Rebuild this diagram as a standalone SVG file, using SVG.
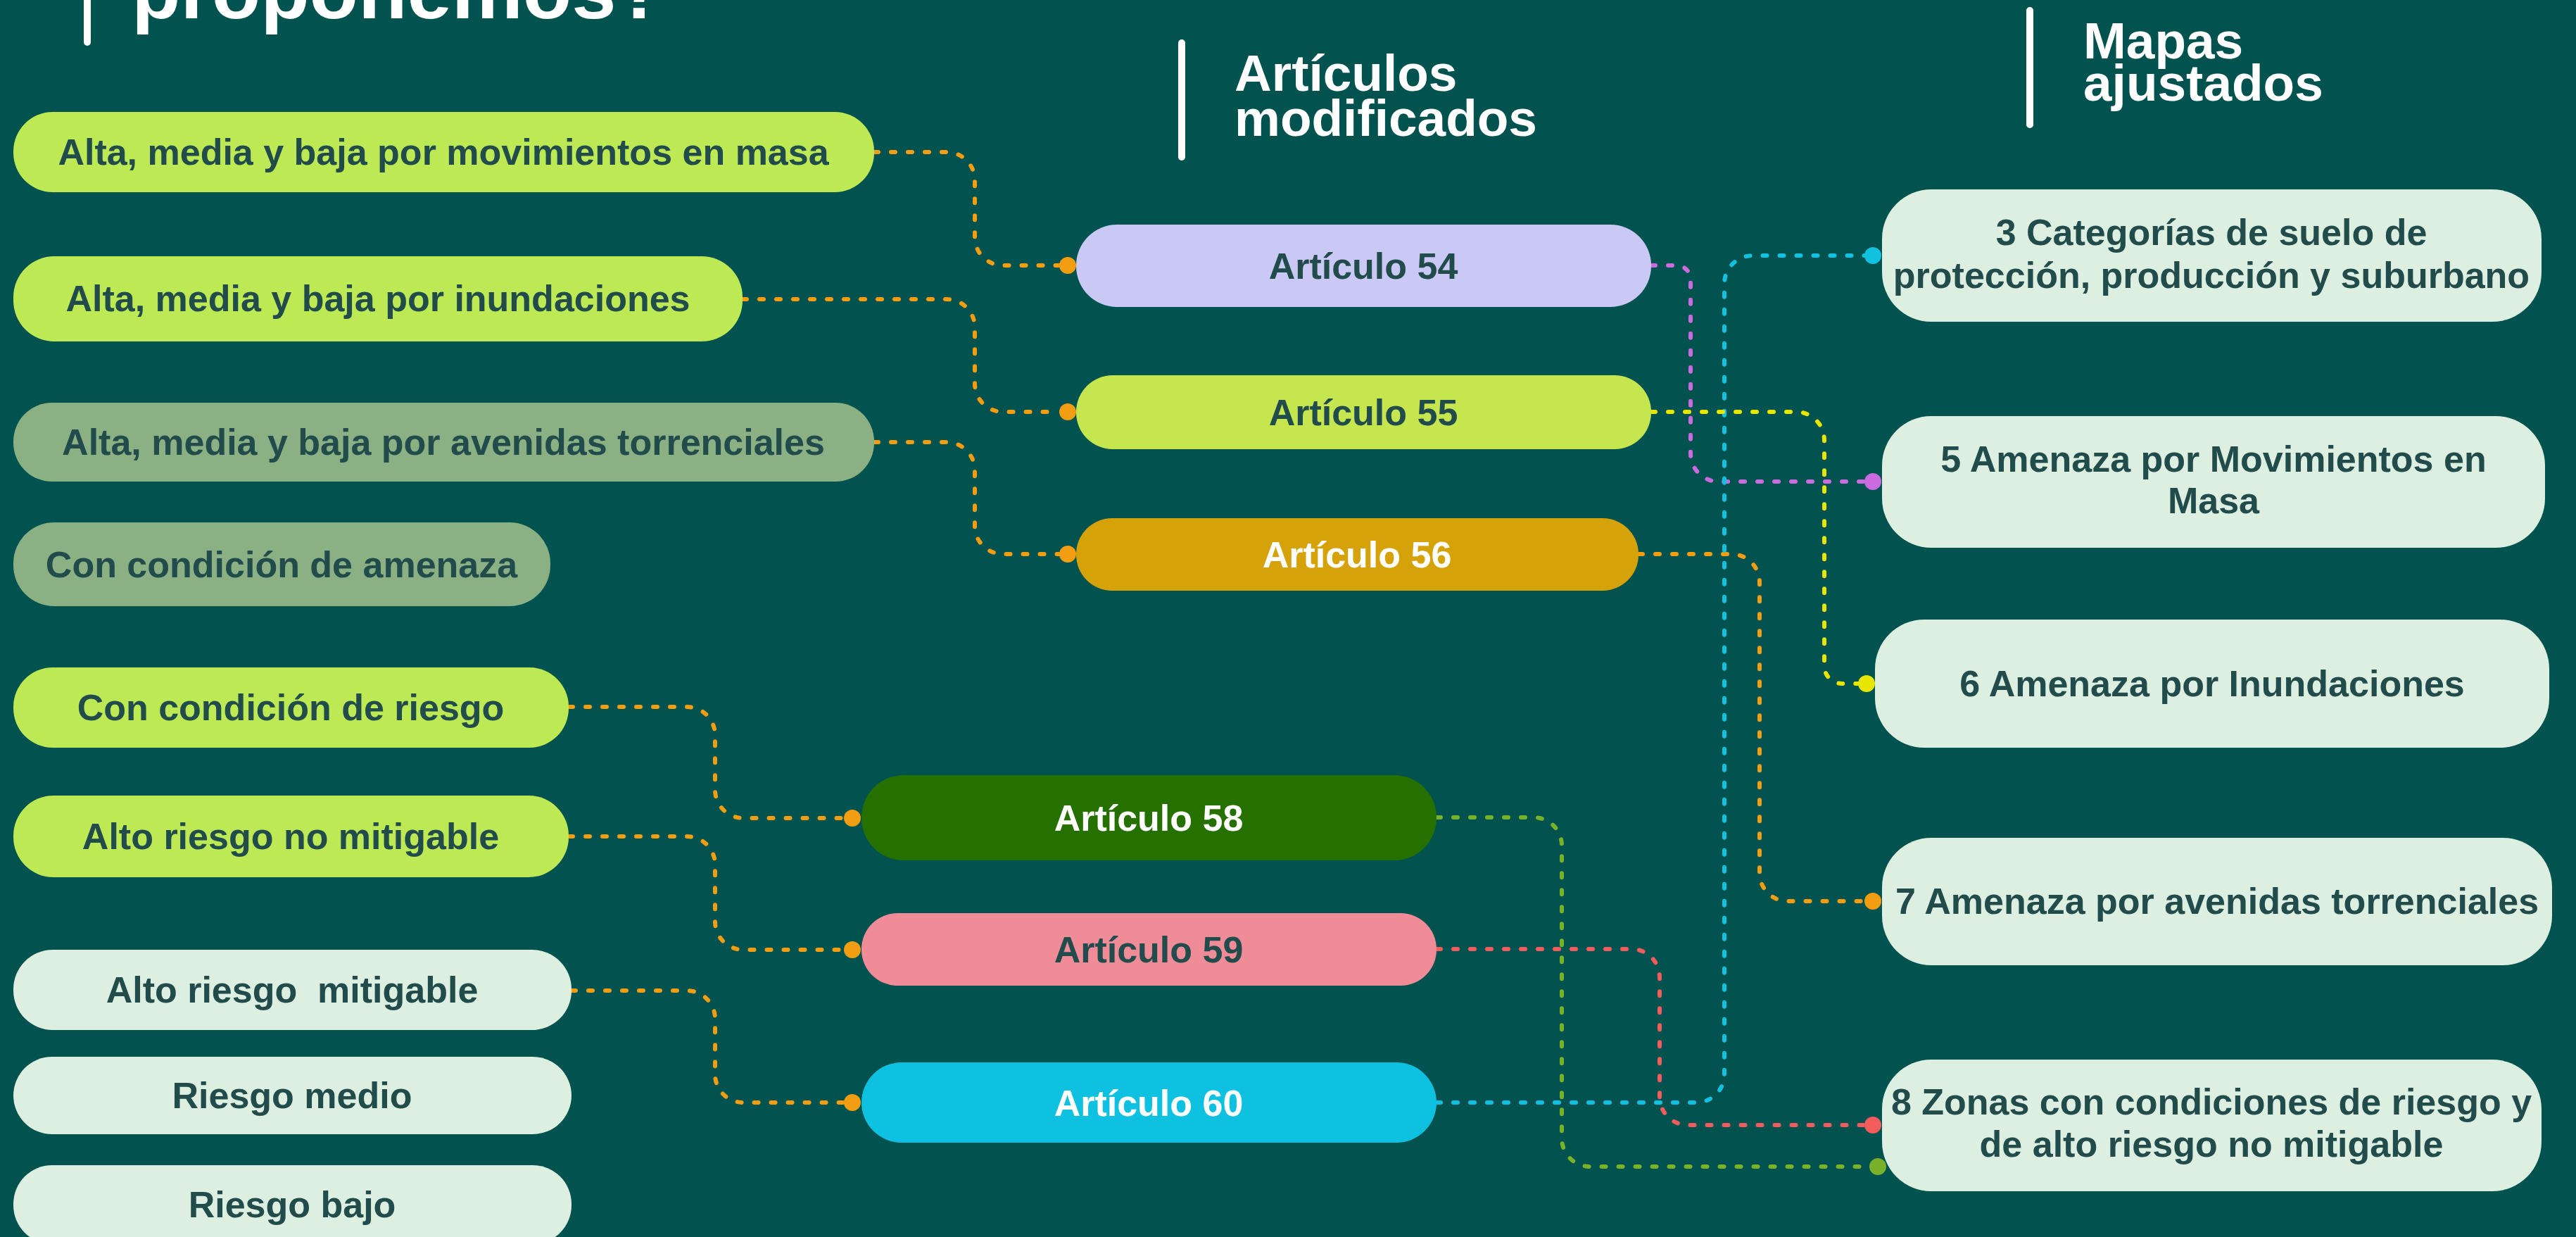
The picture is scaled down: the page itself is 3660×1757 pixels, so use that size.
<svg xmlns="http://www.w3.org/2000/svg" width="3660" height="1757" viewBox="0 0 3660 1757">
<style>
.t{font-family:"Liberation Sans",Arial,sans-serif;font-weight:700;font-size:52px;fill:#224c4c;text-anchor:middle}
.w{fill:#ffffff}
.h{font-family:"Liberation Sans",Arial,sans-serif;font-weight:700;font-size:73px;fill:#ffffff}
.c{fill:none;stroke-width:6;stroke-linecap:round;stroke-dasharray:6 18}
.lime{fill:#bde955}
.sage{fill:#8bb083}
.pale{fill:#dcefe0}
</style>
<rect x="0" y="0" width="3660" height="1757" fill="#02524f"/>

<g id="title">
<line x1="124" y1="-10" x2="124" y2="60" stroke="#ffffff" stroke-width="10" stroke-linecap="round"/>
<text x="187" y="26" font-family="'Liberation Sans',Arial,sans-serif" font-weight="700" font-size="112" fill="#ffffff" textLength="758" lengthAdjust="spacingAndGlyphs">proponemos?</text>
</g>
<g id="header-articulos">
<line x1="1679" y1="61" x2="1679" y2="223" stroke="#ffffff" stroke-width="10" stroke-linecap="round"/>
<text class="h" x="1754" y="129">Artículos</text>
<text class="h" x="1754" y="193">modificados</text>
</g>
<g id="header-mapas">
<line x1="2884" y1="15" x2="2884" y2="177" stroke="#ffffff" stroke-width="10" stroke-linecap="round"/>
<text class="h" x="2960" y="83">Mapas</text>
<text class="h" x="2960" y="143">ajustados</text>
</g>

<g id="connectors">
<g stroke="#f39e12">
<path class="c" d="M1242,216 H1345 A40,40 0 0 1 1385,256 V337 A40,40 0 0 0 1425,377 H1505"/>
<path class="c" d="M1055,425 H1345 A40,40 0 0 1 1385,465 V545 A40,40 0 0 0 1425,585 H1505"/>
<path class="c" d="M1242,628 H1345 A40,40 0 0 1 1385,668 V747 A40,40 0 0 0 1425,787 H1505"/>
<path class="c" d="M808,1004 H976 A40,40 0 0 1 1016,1044 V1122 A40,40 0 0 0 1056,1162 H1199"/>
<path class="c" d="M808,1188 H976 A40,40 0 0 1 1016,1228 V1309 A40,40 0 0 0 1056,1349 H1199"/>
<path class="c" d="M812,1407 H976 A40,40 0 0 1 1016,1447 V1526 A40,40 0 0 0 1056,1566 H1199"/>
<path class="c" d="M2328,787 H2460 A40,40 0 0 1 2500,827 V1240 A40,40 0 0 0 2540,1280 H2649"/>
</g>
<g fill="#f39e12">
<circle cx="1517" cy="377" r="12"/>
<circle cx="1517" cy="585" r="12"/>
<circle cx="1517" cy="787" r="12"/>
<circle cx="1211" cy="1162" r="12"/>
<circle cx="1211" cy="1349" r="12"/>
<circle cx="1211" cy="1566" r="12"/>
<circle cx="2661" cy="1280" r="12"/>
</g>
<path class="c" stroke="#cc6ae0" d="M2346,377 H2382 A20,20 0 0 1 2402,397 V644 A40,40 0 0 0 2442,684 H2649"/>
<circle cx="2661" cy="684" r="12" fill="#cc6ae0"/>
<path class="c" stroke="#12c0e0" d="M2041,1566 H2410 A40,40 0 0 0 2450,1526 V403 A40,40 0 0 1 2490,363 H2649"/>
<circle cx="2661" cy="363" r="12" fill="#12c0e0"/>
<path class="c" stroke="#e6e600" d="M2346,585 H2552 A40,40 0 0 1 2592,625 V946 A25,25 0 0 0 2617,971 H2640"/>
<circle cx="2652" cy="971" r="12" fill="#e6e600"/>
<path class="c" stroke="#f25c5c" d="M2041,1348 H2318 A40,40 0 0 1 2358,1388 V1558 A40,40 0 0 0 2398,1598 H2649"/>
<circle cx="2661" cy="1598" r="12" fill="#f25c5c"/>
<path class="c" stroke="#79b22a" d="M2041,1161 H2179 A40,40 0 0 1 2219,1201 V1617 A40,40 0 0 0 2259,1657 H2656"/>
<circle cx="2668" cy="1657" r="12" fill="#79b22a"/>
</g>

<g id="n-mov-masa"><rect class="lime" x="19" y="159" width="1223" height="114" rx="56"/><text class="t" x="630" y="234">Alta, media y baja por movimientos en masa</text></g>
<g id="n-inundaciones"><rect class="lime" x="19" y="364" width="1036" height="121" rx="58"/><text class="t" x="537" y="442">Alta, media y baja por inundaciones</text></g>
<g id="n-avenidas"><rect class="sage" x="19" y="572" width="1223" height="112" rx="55"/><text class="t" x="630" y="646">Alta, media y baja por avenidas torrenciales</text></g>
<g id="n-cond-amenaza"><rect class="sage" x="19" y="742" width="763" height="119" rx="58"/><text class="t" x="400" y="820">Con condición de amenaza</text></g>
<g id="n-cond-riesgo"><rect class="lime" x="19" y="948" width="789" height="114" rx="56"/><text class="t" x="413" y="1023">Con condición de riesgo</text></g>
<g id="n-alto-no-mit"><rect class="lime" x="19" y="1130" width="789" height="116" rx="57"/><text class="t" x="413" y="1206">Alto riesgo no mitigable</text></g>
<g id="n-alto-mit"><rect class="pale" x="19" y="1349" width="793" height="114" rx="56"/><text class="t" x="415" y="1424" xml:space="preserve">Alto riesgo  mitigable</text></g>
<g id="n-riesgo-medio"><rect class="pale" x="19" y="1501" width="793" height="110" rx="55"/><text class="t" x="415" y="1574">Riesgo medio</text></g>
<g id="n-riesgo-bajo"><rect class="pale" x="19" y="1655" width="793" height="112" rx="55"/><text class="t" x="415" y="1729">Riesgo bajo</text></g>

<g id="a54"><rect x="1529" y="319" width="817" height="117" rx="58" fill="#cac8f5"/><text class="t" x="1937" y="396">Artículo 54</text></g>
<g id="a55"><rect x="1529" y="533" width="817" height="105" rx="52" fill="#c5e64e"/><text class="t" x="1937" y="604">Artículo 55</text></g>
<g id="a56"><rect x="1529" y="736" width="799" height="103" rx="51" fill="#d5a20a"/><text class="t w" x="1928" y="806">Artículo 56</text></g>
<g id="a58"><rect x="1224" y="1101" width="817" height="121" rx="60" fill="#267000"/><text class="t w" x="1632" y="1180">Artículo 58</text></g>
<g id="a59"><rect x="1224" y="1297" width="817" height="103" rx="51" fill="#f08c98"/><text class="t" x="1632" y="1367">Artículo 59</text></g>
<g id="a60"><rect x="1224" y="1509" width="817" height="114" rx="57" fill="#0ec1e0"/><text class="t w" x="1632" y="1585">Artículo 60</text></g>

<g id="m3"><rect class="pale" x="2674" y="269" width="937" height="188" rx="70"/><text class="t" x="3142" y="348">3 Categorías de suelo de</text><text class="t" x="3142" y="409">protección, producción y suburbano</text></g>
<g id="m5"><rect class="pale" x="2674" y="591" width="942" height="187" rx="70"/><text class="t" x="3145" y="670">5 Amenaza por Movimientos en</text><text class="t" x="3145" y="729">Masa</text></g>
<g id="m6"><rect class="pale" x="2664" y="880" width="958" height="182" rx="70"/><text class="t" x="3143" y="989">6 Amenaza por Inundaciones</text></g>
<g id="m7"><rect class="pale" x="2674" y="1190" width="952" height="181" rx="70"/><text class="t" x="3150" y="1298">7 Amenaza por avenidas torrenciales</text></g>
<g id="m8"><rect class="pale" x="2674" y="1505" width="937" height="187" rx="70"/><text class="t" x="3142" y="1583">8 Zonas con condiciones de riesgo y</text><text class="t" x="3142" y="1643">de alto riesgo no mitigable</text></g>
</svg>
